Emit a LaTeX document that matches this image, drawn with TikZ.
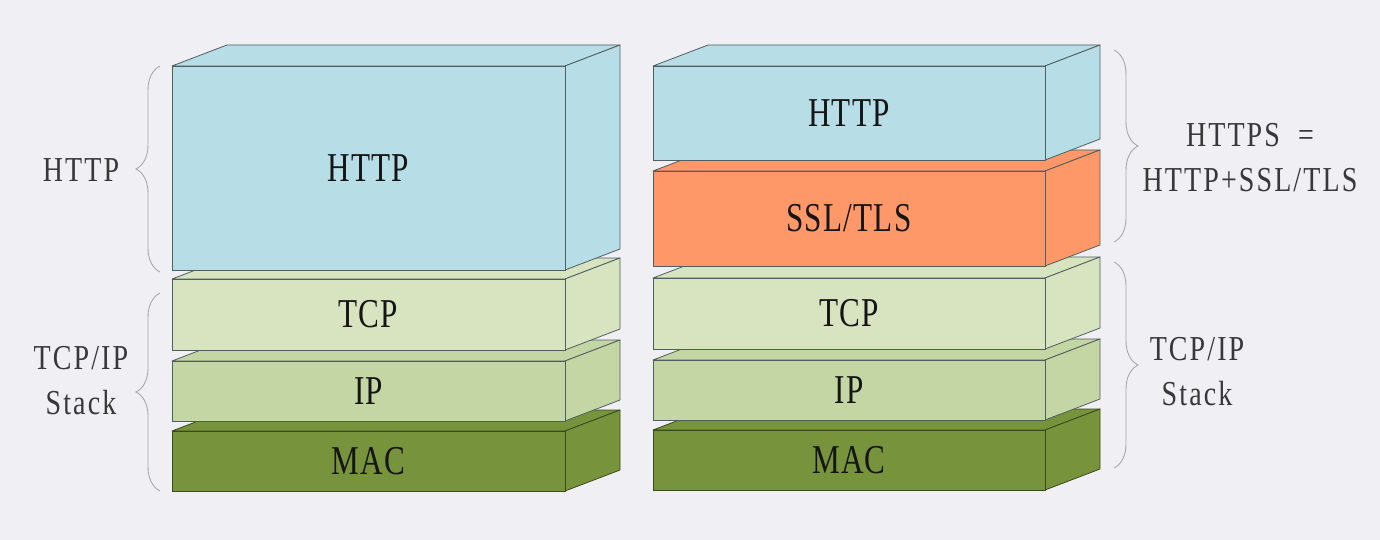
\documentclass[tikz,border=0pt]{standalone}
\usepackage{fontspec}
\setmainfont[FakeStretch=0.78]{Liberation Serif}
\newfontfamily\sidefont[FakeStretch=0.8, LetterSpace=6]{Liberation Serif}
\newfontfamily\innerfont[FakeStretch=0.76, LetterSpace=3]{Liberation Serif}
\usetikzlibrary{decorations.pathreplacing}
\definecolor{bg}{HTML}{F0EFF4}
\definecolor{httpc}{HTML}{B7DDE6}
\definecolor{sslc}{HTML}{FE9868}
\definecolor{tcpc}{HTML}{D8E4BF}
\definecolor{ipc}{HTML}{C4D6A3}
\definecolor{macc}{HTML}{77933C}
\definecolor{edge}{HTML}{4F5E5E}
\definecolor{macedge}{HTML}{3A4A1C}
\definecolor{bracec}{HTML}{A8A8A8}
\definecolor{txt}{HTML}{151515}
\tikzset{
  face/.style={draw=edge, line width=0.8pt, line join=round},
  frontbox/.style={draw=edge, line width=0.8pt, rectangle, inner sep=0pt, outer sep=0pt,
    font=\innerfont\fontsize{41}{41}\selectfont, text=txt},
  sidelabel/.style={font=\sidefont\fontsize{35}{45}\selectfont, align=center, text=txt!85},
  bracestyle/.style={draw=bracec, line width=0.9pt,
    decorate, decoration={brace, amplitude=24pt, aspect=#1}},
  bracestyle/.default=0.5
}
% #1 name, #2 x0, #3 y0, #4 x1, #5 y1, #6 color, #7 text, #8 edge colour
\newcommand\stacklayer[8]{%
  \draw[face, draw=#8, fill=#6] (#2,#3) -- (#4,#3) -- ({#4+55},{#3-21}) -- ({#2+55},{#3-21}) -- cycle;
  \draw[face, draw=#8, fill=#6] (#4,#3) -- ({#4+55},{#3-21}) -- ({#4+55},{#5-21}) -- (#4,#5) -- cycle;
  \node[frontbox, draw=#8, fill=#6, minimum width={(#4-#2)*1pt}, minimum height={(#5-#3)*1pt}]
    (#1) at ({(#2+#4)/2},{(#3+#5)/2}) {#7};
}
\begin{document}
\begin{tikzpicture}[x=1pt,y=-1pt]
\fill[bg] (0,0) rectangle (1380,540);
\useasboundingbox (0,0) rectangle (1380,540);

% left stack (bottom first)
\stacklayer{lmac}{172}{431}{565}{491}{macc}{MAC}{macedge}
\stacklayer{lip}{172}{361}{565}{421}{ipc}{IP}{edge}
\stacklayer{ltcp}{172}{279}{565}{350}{tcpc}{TCP}{edge}
\stacklayer{lhttp}{172}{66}{565}{270}{httpc}{HTTP}{edge}

% right stack
\stacklayer{rmac}{653}{430}{1045}{490}{macc}{MAC}{macedge}
\stacklayer{rip}{653}{360}{1045}{420}{ipc}{IP}{edge}
\stacklayer{rtcp}{653}{278}{1045}{349}{tcpc}{TCP}{edge}
\stacklayer{rssl}{653}{171}{1045}{266}{sslc}{SSL/TLS}{edge}
\stacklayer{rhttp}{653}{66}{1045}{160}{httpc}{HTTP}{edge}

% braces
\coordinate (b1s) at (160,272);
\coordinate (b1e) at (160,66);
\draw[bracestyle] (b1s) -- (b1e);
\coordinate (b2s) at (160,491);
\coordinate (b2e) at (160,293);
\draw[bracestyle] (b2s) -- (b2e);
\coordinate (b3s) at (1114,50);
\coordinate (b3e) at (1114,242);
\draw[bracestyle] (b3s) -- (b3e);
\coordinate (b4s) at (1114,262);
\coordinate (b4e) at (1114,468);
\draw[bracestyle] (b4s) -- (b4e);

% side labels
\node[sidelabel] (lhttplbl) at (81,170) {HTTP};
\node[sidelabel] (ltcplbl) at (81,381) {TCP/IP\\Stack};
\node[sidelabel] (httpslbl) at (1250,158) {HTTPS\ \ =\\HTTP+SSL/TLS};
\node[sidelabel] (rtcplbl) at (1197,372) {TCP/IP\\Stack};
\end{tikzpicture}
\end{document}
